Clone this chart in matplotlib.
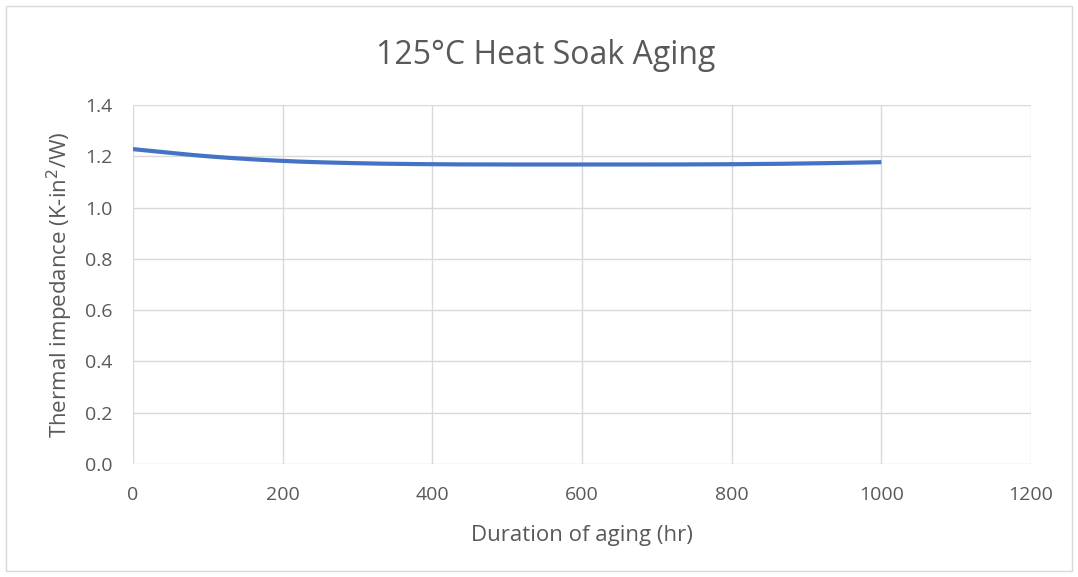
import numpy as np
from matplotlib import pyplot as plt
from matplotlib.patches import Rectangle

# values
hours = [0, 100, 200, 300, 400, 500, 600, 700, 800, 900, 1000]
impedance = [1.228, 1.200, 1.182, 1.173, 1.169, 1.168, 1.168, 1.168, 1.169, 1.172, 1.177]

x_ticks = [0, 200, 400, 600, 800, 1000, 1200]
y_ticks = [0.0, 0.2, 0.4, 0.6, 0.8, 1.0, 1.2, 1.4]


def smooth(x, y, n=20):
  # catmull-rom curve through the points, like a smoothed excel line
  x = np.asarray(x, float)
  y = np.asarray(y, float)
  px = np.concatenate([[2*x[0]-x[1]], x, [2*x[-1]-x[-2]]])
  py = np.concatenate([[2*y[0]-y[1]], y, [2*y[-1]-y[-2]]])
  xs, ys = [], []
  t = np.linspace(0, 1, n)
  for i in range(1, len(px)-2):
    for p, out in ((px, xs), (py, ys)):
      p0, p1, p2, p3 = p[i-1], p[i], p[i+1], p[i+2]
      out.extend(0.5*((2*p1) + (-p0+p2)*t + (2*p0-5*p1+4*p2-p3)*t**2
                      + (-p0+3*p1-3*p2+p3)*t**3))
  return np.array(xs), np.array(ys)


plt.rcParams['font.family'] = ['Open Sans', 'DejaVu Sans']
text_color = '#595959'
grid_color = '#d9d9d9'

fig = plt.figure(figsize=(10.78, 5.77), dpi=100)
fig.patches.append(Rectangle((6/1078, 6/577), 1066/1078, 565/577, transform=fig.transFigure,
                             fill=False, edgecolor=grid_color, linewidth=1))
ax = fig.add_axes([133/1078, 1-464/577, 898/1078, 359/577])

sx, sy = smooth(hours, impedance)
ax.plot(sx, sy, color='#4472C4', linewidth=3.0, solid_capstyle='butt')

ax.set_xlim(0, 1200)
ax.set_ylim(0, 1.4)
ax.set_xticks(x_ticks)
ax.set_yticks(y_ticks)
ax.set_yticklabels([f'{v:.1f}' for v in y_ticks])
ax.grid(True, color=grid_color, linewidth=1)
ax.set_axisbelow(True)
for s in ax.spines.values():
  s.set_visible(False)
ax.tick_params(length=0, labelsize=14, colors=text_color)
ax.tick_params(axis='x', pad=16)
ax.tick_params(axis='y', pad=15)

fig.text(546/1078, 1-55/577, '125°C Heat Soak Aging', fontsize=23, color=text_color,
         ha='center', va='center')
ax.set_xlabel('Duration of aging (hr)', fontsize=16, color=text_color, labelpad=15)
ax.set_ylabel('Thermal impedance (K-in$^2$/W)', fontsize=16, color=text_color, labelpad=7)

fig.savefig('out.png', dpi=100)
